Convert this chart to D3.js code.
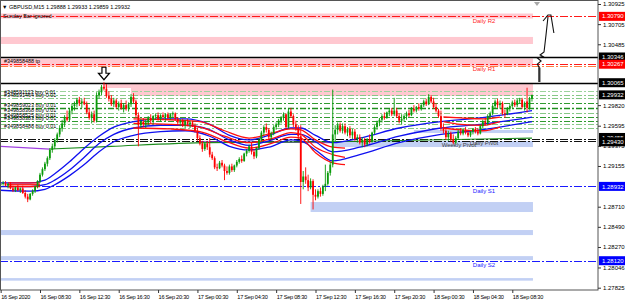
<!DOCTYPE html>
<html>
<head>
<meta charset="utf-8">
<script src="https://cdn.jsdelivr.net/npm/d3@7"></script>
<style>
  body { margin: 0; background: #fff; }
  svg text { font-family: "Liberation Sans", Arial, sans-serif; font-size: 6px; fill: #000; }
</style>
</head>
<body>
<script>
// GBPUSD M15, bars start 16 Sep 2020 04:30 (server time), one bar every 15 minutes
var firstBar = Date.UTC(2020, 8, 16, 4, 30);

// [open, high, low, close]
var ohlc = [
  [1.2895,1.2898,1.2892,1.2896],[1.2896,1.2899,1.2894,1.2897],[1.2897,1.2899,1.2893,1.2894],[1.2894,1.2897,1.2891,1.2896],
  [1.2896,1.2898,1.2890,1.2891],[1.2891,1.2894,1.2887,1.2889],[1.2889,1.2893,1.2887,1.2892],[1.2892,1.2895,1.2888,1.2889],
  [1.2889,1.2892,1.2886,1.2891],[1.2891,1.2894,1.2885,1.2886],[1.2886,1.2889,1.2880,1.2882],[1.2882,1.2885,1.2876,1.2879],
  [1.2879,1.2886,1.2878,1.2885],[1.2885,1.2890,1.2883,1.2888],[1.2888,1.2894,1.2886,1.2893],[1.2893,1.2900,1.2891,1.2899],
  [1.2899,1.2908,1.2897,1.2906],[1.2906,1.2914,1.2904,1.2912],[1.2912,1.2920,1.2910,1.2918],[1.2918,1.2926,1.2915,1.2924],
  [1.2924,1.2935,1.2922,1.2933],[1.2933,1.2940,1.2930,1.2937],[1.2937,1.2946,1.2934,1.2944],[1.2944,1.2952,1.2941,1.2950],
  [1.2950,1.2960,1.2947,1.2957],[1.2957,1.2966,1.2953,1.2962],[1.2962,1.2971,1.2958,1.2969],[1.2969,1.2976,1.2964,1.2966],
  [1.2966,1.2978,1.2964,1.2976],[1.2976,1.2984,1.2972,1.2981],[1.2981,1.2986,1.2976,1.2983],[1.2983,1.2990,1.2980,1.2988],
  [1.2988,1.2991,1.2981,1.2984],[1.2984,1.2989,1.2979,1.2986],[1.2986,1.2990,1.2982,1.2983],[1.2983,1.2986,1.2972,1.2974],
  [1.2974,1.2978,1.2966,1.2968],[1.2968,1.2975,1.2962,1.2972],[1.2972,1.2976,1.2963,1.2965],[1.2965,1.2996,1.2963,1.2993],
  [1.2993,1.2999,1.2989,1.2996],[1.2996,1.3004,1.2993,1.3002],[1.3002,1.3007,1.2998,1.3000],[1.3000,1.3005,1.2990,1.2992],
  [1.2992,1.2997,1.2986,1.2989],[1.2989,1.2993,1.2981,1.2983],[1.2983,1.2990,1.2980,1.2987],[1.2987,1.2989,1.2978,1.2980],
  [1.2980,1.2986,1.2976,1.2984],[1.2984,1.2988,1.2977,1.2979],[1.2979,1.2984,1.2974,1.2982],[1.2982,1.2987,1.2976,1.2978],
  [1.2978,1.2985,1.2975,1.2983],[1.2983,1.2994,1.2980,1.2991],[1.2991,1.2995,1.2984,1.2986],[1.2986,1.2988,1.2968,1.2971],
  [1.2971,1.2974,1.2937,1.2960],[1.2960,1.2967,1.2957,1.2964],[1.2964,1.2968,1.2958,1.2961],[1.2961,1.2966,1.2957,1.2963],
  [1.2963,1.2970,1.2960,1.2968],[1.2968,1.2972,1.2962,1.2965],[1.2965,1.2971,1.2961,1.2970],[1.2970,1.2973,1.2966,1.2971],
  [1.2971,1.2974,1.2965,1.2967],[1.2967,1.2972,1.2964,1.2971],[1.2971,1.2974,1.2967,1.2969],[1.2969,1.2973,1.2965,1.2972],
  [1.2972,1.2974,1.2967,1.2968],[1.2968,1.2973,1.2966,1.2972],[1.2972,1.2975,1.2968,1.2973],[1.2973,1.2974,1.2965,1.2967],
  [1.2967,1.2969,1.2961,1.2963],[1.2963,1.2967,1.2959,1.2965],[1.2965,1.2967,1.2958,1.2960],[1.2960,1.2966,1.2957,1.2964],
  [1.2964,1.2967,1.2959,1.2961],[1.2961,1.2965,1.2957,1.2963],[1.2963,1.2965,1.2958,1.2959],[1.2959,1.2962,1.2952,1.2954],
  [1.2954,1.2957,1.2943,1.2946],[1.2946,1.2949,1.2938,1.2940],[1.2940,1.2943,1.2931,1.2934],[1.2934,1.2942,1.2932,1.2940],
  [1.2940,1.2943,1.2933,1.2936],[1.2936,1.2946,1.2925,1.2928],[1.2928,1.2931,1.2922,1.2924],[1.2924,1.2926,1.2912,1.2914],
  [1.2914,1.2918,1.2910,1.2913],[1.2913,1.2921,1.2912,1.2919],[1.2919,1.2922,1.2914,1.2916],[1.2916,1.2918,1.2900,1.2910],
  [1.2910,1.2915,1.2906,1.2908],[1.2908,1.2917,1.2906,1.2915],[1.2915,1.2918,1.2909,1.2911],[1.2911,1.2917,1.2909,1.2916],
  [1.2916,1.2922,1.2914,1.2920],[1.2920,1.2925,1.2918,1.2923],[1.2923,1.2927,1.2919,1.2921],[1.2921,1.2930,1.2920,1.2929],
  [1.2929,1.2934,1.2926,1.2932],[1.2932,1.2939,1.2930,1.2937],[1.2937,1.2941,1.2928,1.2931],[1.2931,1.2934,1.2923,1.2926],
  [1.2926,1.2936,1.2924,1.2935],[1.2935,1.2946,1.2933,1.2944],[1.2944,1.2954,1.2942,1.2952],[1.2952,1.2960,1.2949,1.2958],
  [1.2958,1.2962,1.2952,1.2955],[1.2955,1.2957,1.2944,1.2947],[1.2947,1.2953,1.2944,1.2951],[1.2951,1.2960,1.2949,1.2958],
  [1.2958,1.2963,1.2955,1.2961],[1.2961,1.2967,1.2958,1.2965],[1.2965,1.2970,1.2962,1.2968],[1.2968,1.2974,1.2965,1.2972],
  [1.2972,1.2973,1.2955,1.2958],[1.2958,1.2978,1.2956,1.2975],[1.2975,1.2979,1.2968,1.2970],[1.2970,1.2972,1.2958,1.2961],
  [1.2961,1.2965,1.2954,1.2957],[1.2957,1.2960,1.2945,1.2948],[1.2948,1.2960,1.2874,1.2898],[1.2898,1.2910,1.2890,1.2904],
  [1.2904,1.2914,1.2896,1.2900],[1.2900,1.2906,1.2888,1.2892],[1.2892,1.2902,1.2890,1.2899],[1.2899,1.2901,1.2868,1.2884],
  [1.2884,1.2890,1.2878,1.2882],[1.2882,1.2890,1.2880,1.2888],[1.2888,1.2892,1.2882,1.2885],[1.2885,1.2895,1.2883,1.2893],
  [1.2893,1.2917,1.2888,1.2896],[1.2896,1.2910,1.2894,1.2908],[1.2908,1.2920,1.2905,1.2917],[1.2917,1.2999,1.2914,1.2950],
  [1.2950,1.2960,1.2942,1.2955],[1.2955,1.2963,1.2950,1.2960],[1.2960,1.2963,1.2952,1.2954],[1.2954,1.2962,1.2951,1.2959],
  [1.2959,1.2962,1.2950,1.2952],[1.2952,1.2958,1.2948,1.2956],[1.2956,1.2959,1.2946,1.2949],[1.2949,1.2956,1.2945,1.2953],
  [1.2953,1.2956,1.2943,1.2945],[1.2945,1.2950,1.2941,1.2947],[1.2947,1.2950,1.2939,1.2941],[1.2941,1.2947,1.2936,1.2944],
  [1.2944,1.2946,1.2936,1.2939],[1.2939,1.2946,1.2937,1.2945],[1.2945,1.2950,1.2940,1.2942],[1.2942,1.2953,1.2941,1.2952],
  [1.2952,1.2960,1.2950,1.2958],[1.2958,1.2965,1.2955,1.2963],[1.2963,1.2968,1.2959,1.2966],[1.2966,1.2972,1.2963,1.2970],
  [1.2970,1.2974,1.2966,1.2968],[1.2968,1.2975,1.2967,1.2974],[1.2974,1.2978,1.2970,1.2976],[1.2976,1.2979,1.2970,1.2972],
  [1.2972,1.2990,1.2970,1.2976],[1.2976,1.2979,1.2968,1.2970],[1.2970,1.2973,1.2962,1.2965],[1.2965,1.2972,1.2961,1.2967],
  [1.2967,1.2972,1.2964,1.2970],[1.2970,1.2975,1.2966,1.2973],[1.2973,1.2977,1.2969,1.2971],[1.2971,1.2980,1.2970,1.2978],
  [1.2978,1.2982,1.2974,1.2976],[1.2976,1.2981,1.2974,1.2980],[1.2980,1.2984,1.2976,1.2978],[1.2978,1.2983,1.2976,1.2982],
  [1.2982,1.2988,1.2980,1.2986],[1.2986,1.2989,1.2981,1.2983],[1.2983,1.2994,1.2982,1.2991],[1.2991,1.2993,1.2984,1.2986],
  [1.2986,1.2990,1.2978,1.2980],[1.2980,1.2984,1.2974,1.2976],[1.2976,1.2978,1.2968,1.2970],[1.2970,1.2976,1.2954,1.2957],
  [1.2957,1.2962,1.2951,1.2954],[1.2954,1.2958,1.2944,1.2947],[1.2947,1.2954,1.2943,1.2951],[1.2951,1.2953,1.2942,1.2945],
  [1.2945,1.2950,1.2939,1.2941],[1.2941,1.2948,1.2939,1.2946],[1.2946,1.2955,1.2944,1.2953],[1.2953,1.2957,1.2949,1.2951],
  [1.2951,1.2957,1.2949,1.2955],[1.2955,1.2958,1.2950,1.2952],[1.2952,1.2955,1.2947,1.2949],[1.2949,1.2954,1.2947,1.2953],
  [1.2953,1.2957,1.2950,1.2956],[1.2956,1.2958,1.2951,1.2953],[1.2953,1.2957,1.2949,1.2951],[1.2951,1.2961,1.2950,1.2959],
  [1.2959,1.2966,1.2957,1.2964],[1.2964,1.2968,1.2960,1.2962],[1.2962,1.2972,1.2960,1.2970],[1.2970,1.2975,1.2967,1.2973],
  [1.2973,1.2983,1.2971,1.2981],[1.2981,1.2988,1.2978,1.2986],[1.2986,1.2989,1.2979,1.2982],[1.2982,1.2987,1.2978,1.2984],
  [1.2984,1.2986,1.2971,1.2973],[1.2973,1.2977,1.2968,1.2972],[1.2972,1.2980,1.2971,1.2978],[1.2978,1.2983,1.2975,1.2981],
  [1.2981,1.2987,1.2979,1.2985],[1.2985,1.2988,1.2980,1.2982],[1.2982,1.2989,1.2980,1.2987],[1.2987,1.2990,1.2984,1.2988],
  [1.2988,1.2990,1.2978,1.2980],[1.2980,1.2986,1.2976,1.2984],[1.2986,1.3001,1.2974,1.2979],[1.2979,1.2991,1.2977,1.2989],
  [1.29888,1.29933,1.29859,1.29932]
];

// moving average ribbons, [bar, upper, middle, lower]
var blueRibbon = [
  [0,1.2897,1.2893,1.2889],[12,1.2897,1.2893,1.2888],[18,1.2900,1.2895,1.2890],[22,1.2907,1.2900,1.2895],
  [28,1.2920,1.2911,1.2905],[34,1.2935,1.2925,1.2917],[40,1.2948,1.2940,1.2931],[46,1.2958,1.2950,1.2942],
  [54,1.2964,1.2957,1.2949],[65,1.2967,1.2960,1.2953],[75,1.2967,1.2960,1.2954],[85,1.2961,1.2955,1.2948],
  [93,1.2949,1.2944,1.2937],[101,1.2944,1.2938,1.2933],[109,1.2949,1.2943,1.2936],[118,1.2957,1.2950,1.2944],
  [122,1.2957,1.2950,1.2943],[128,1.2949,1.2942,1.2933],[135,1.2941,1.2931,1.2921],[146,1.2946,1.2936,1.2928],
  [162,1.2957,1.2948,1.2941],[179,1.2964,1.2957,1.2950],[195,1.2968,1.2961,1.2955],[216,1.2976,1.2969,1.2964]
];
var redRibbonA = [[3,1.2897,1.2895,1.2893],[16,1.2897,1.2895,1.2893]];
var redRibbonB = [
  [54,1.2967,1.2962,1.2957],[69,1.2966,1.2961,1.2956],[81,1.2964,1.2958,1.2953],[91,1.2954,1.2948,1.2943],
  [101,1.2946,1.2941,1.2935],[111,1.2952,1.2946,1.2941],[118,1.2956,1.2952,1.2947],[122,1.2955,1.2950,1.2946],
  [128,1.2944,1.2936,1.2930],[135,1.2936,1.2928,1.2919],[140,1.2935,1.2925,1.2917]
];
var redRibbonC = [[180,1.2969,1.2964,1.2957],[187,1.2968,1.2961,1.2955],[196,1.2967,1.2960,1.2954],[203,1.2969,1.2964,1.2958]];
var greenTrend = [[20,1.2934],[45,1.2937],[85,1.2941],[135,1.2942],[216,1.2946]];
var purpleTrendA = [[0,1.2937],[20,1.2934]];
var purpleTrendB = [[81,1.2942],[135,1.2941]];

// pivot levels
var pivotNames = ["Daily R2", "Daily R1", "Daily Pivot", "Weekly Pivot", "Daily S1", "Daily S2"];
var pivotValues = [1.30790, 1.30267, 1.29455, 1.29430, 1.28932, 1.28120];
var hLineValues = [1.30346, 1.30065];
var tpValue = 1.30248;
var tpLabel = "#349858488 tp";
var lastPrice = 1.29932;

// open orders
var orderPrices = [1.29974, 1.29931, 1.29898, 1.29843, 1.29794, 1.29734, 1.29690, 1.29652, 1.29614, 1.29565];
var orderLabels = [
  ["#348591123 buy 0.01", 1.29931], ["#348591464 buy 0.01", 1.29898], ["#349859023 buy 0.01", 1.29794],
  ["#349858368 buy 0.01", 1.29734], ["#349858525 buy 0.01", 1.29690], ["#349858383 buy 0.01", 1.29652],
  ["#349858488 buy 0.01", 1.29565]
];

// supply / demand rectangles [fromBar, toBar, top, bottom]
var supplyZones = [
  [-2,216.4,1.30821,1.30766],[-2,216.4,1.30565,1.30488],[-2,216.4,1.30329,1.30242],
  [42,216.4,1.30062,1.30007],[53,216.4,1.30062,1.29920]
];
var demandZones = [
  [168,216.4,1.29548,1.29515],[135,216.4,1.29428,1.29362],[126,216.4,1.28761,1.28652],
  [-2,216.4,1.28455,1.28400],[-2,216.4,1.28170,1.28127],[-2,216.4,1.27930,1.27902]
];

// hand drawn arrow [bar, price]
var sketch = [[219.0,1.30073],[219.0,1.30226],[218.2,1.30269],[219.7,1.30302],[218.2,1.30335],[220.5,1.30351],
  [219.3,1.30368],[220.9,1.30400],[221.7,1.30586],[222.5,1.30783]];
var sketchHead = [[220.5,1.30739],[222.5,1.30805],[223.7,1.30805],[224.9,1.30608]];

var priceTicks = [1.30925, 1.30705, 1.30485, 1.29820, 1.29595, 1.29375, 1.29155, 1.28710, 1.28490, 1.28270, 1.28046, 1.27825];
var timeTicks = ["2020-09-16T04:30Z","2020-09-16T08:30Z","2020-09-16T12:30Z","2020-09-16T16:30Z","2020-09-16T20:30Z",
  "2020-09-17T00:30Z","2020-09-17T04:30Z","2020-09-17T08:30Z","2020-09-17T12:30Z","2020-09-17T16:30Z",
  "2020-09-17T20:30Z","2020-09-18T00:30Z","2020-09-18T04:30Z","2020-09-18T08:30Z"];
var timeLabels = ["16 Sep 2020","16 Sep 08:30","16 Sep 12:30","16 Sep 16:30","16 Sep 20:30","17 Sep 00:30",
  "17 Sep 04:30","17 Sep 08:30","17 Sep 12:30","17 Sep 16:30","17 Sep 20:30","18 Sep 00:30","18 Sep 04:30","18 Sep 08:30"];

var width = 625, height = 301, plotW = 598, plotH = 290;

var svg = d3.select("body").append("svg")
    .attr("width", width)
    .attr("height", height)
    .style("display", "block");

svg.append("rect").attr("width", width).attr("height", height).attr("fill", "#fff");

var x = d3.scaleUtc()
    .domain([new Date(Date.UTC(2020, 8, 16, 8, 30)), new Date(Date.UTC(2020, 8, 18, 8, 30))])
    .range([40, 512.3]);
var y = d3.scaleLinear().domain([1.27825, 1.30925]).range([287.7, 4]);

function bx(i) { return x(new Date(firstBar + i * 900000)); }

svg.append("clipPath").attr("id", "plot")
  .append("rect").attr("x", 0).attr("y", 0).attr("width", plotW).attr("height", plotH);

var plot = svg.append("g").attr("clip-path", "url(#plot)");

// zones
function zones(data, color) {
  plot.append("g").selectAll("rect")
    .data(data)
    .enter().append("rect")
      .attr("x", function(d) { return bx(d[0]); })
      .attr("width", function(d) { return bx(d[1]) - bx(d[0]); })
      .attr("y", function(d) { return y(d[2]); })
      .attr("height", function(d) { return y(d[3]) - y(d[2]); })
      .attr("fill", color);
}
zones(supplyZones, "#ffc8d0");
zones(demandZones, "#c2d0f4");

// horizontal levels
var dashDot = "8,2,2,2";
function hline(v, color, dash, w) {
  plot.append("line")
    .attr("x1", 0).attr("x2", plotW)
    .attr("y1", Math.round(y(v)) + 0.5).attr("y2", Math.round(y(v)) + 0.5)
    .attr("stroke", color).attr("stroke-width", w || 1)
    .attr("stroke-dasharray", dash || null);
}

var orderColors = ["#9bd39b", "#86c886", "#86c886", "#2f9a2f", "#1f8f1f", "#86c886", "#2f9a2f", "#2f9a2f", "#86c886", "#86c886"];
orderPrices.forEach(function(v, i) { hline(v, orderColors[i], "6,2,2,2", i == 4 ? 1.6 : 1.2); });

function pivotColor(name) {
  if (name.indexOf(" R") > 0) return "#ff1a1a";
  if (name.indexOf(" S") > 0) return "#1a1aff";
  return "#111";
}
pivotValues.forEach(function(v, i) { hline(v, pivotColor(pivotNames[i]), dashDot, 1.2); });
hline(tpValue, "#ff8040", dashDot, 1.2);
hLineValues.forEach(function(v) { hline(v, "#000", null, 1.3); });

// trend lines
var line2 = d3.line()
    .x(function(d) { return bx(d[0]); })
    .y(function(d) { return y(d[1]); })
    .curve(d3.curveMonotoneX);

[purpleTrendA, purpleTrendB].forEach(function(d) {
  plot.append("path").attr("d", line2(d)).attr("fill", "none").attr("stroke", "#a040e0").attr("stroke-width", 1.2);
});
plot.append("path").attr("d", line2(greenTrend)).attr("fill", "none").attr("stroke", "#1c8c1c").attr("stroke-width", 1.2);

// ribbons
function ribbon(data, color) {
  [1, 2, 3].forEach(function(k) {
    var ln = d3.line()
        .x(function(d) { return bx(d[0]); })
        .y(function(d) { return y(d[k]); })
        .curve(d3.curveMonotoneX);
    plot.append("path").attr("d", ln(data))
      .attr("fill", "none").attr("stroke", color).attr("stroke-width", 1.3);
  });
}
ribbon(blueRibbon, "#1010f0");
ribbon(redRibbonA, "#ff1010");
ribbon(redRibbonB, "#ff1010");
ribbon(redRibbonC, "#ff1010");

// candles
var candle = plot.append("g").selectAll("g")
    .data(ohlc)
  .enter().append("g");

candle.append("line")
    .attr("x1", function(d, i) { return bx(i); })
    .attr("x2", function(d, i) { return bx(i); })
    .attr("y1", function(d) { return y(d[1]); })
    .attr("y2", function(d) { return y(d[2]); })
    .attr("stroke", function(d) { return d[3] >= d[0] ? "#0a9a0a" : "#ff0000"; })
    .attr("stroke-width", 0.9);

candle.append("rect")
    .attr("x", function(d, i) { return bx(i) - 0.9; })
    .attr("width", 1.8)
    .attr("y", function(d) { return y(Math.max(d[0], d[3])); })
    .attr("height", function(d) { return Math.max(0.8, Math.abs(y(d[0]) - y(d[3]))); })
    .attr("fill", function(d) { return d[3] >= d[0] ? "#0a9a0a" : "#ff0000"; });

// arrow marker above the high
var peak = 42;
var ax = bx(peak), ay = y(ohlc[peak][1]) - 2;
plot.append("path")
    .attr("d", "M" + (ax - 2) + "," + (ay - 13) + "h4v6h3.5l-5.5,6.5l-5.5,-6.5h3.5z")
    .attr("fill", "#fff").attr("stroke", "#000").attr("stroke-width", 1.2);

// hand drawn sketch
var sk = d3.line().x(function(d) { return bx(d[0]); }).y(function(d) { return y(d[1]); });
plot.append("path").attr("d", sk(sketch)).attr("fill", "none").attr("stroke", "#111").attr("stroke-width", 1.1);
plot.append("path").attr("d", sk(sketchHead)).attr("fill", "none").attr("stroke", "#111").attr("stroke-width", 1.1);
plot.append("line").attr("x1", bx(219)).attr("x2", bx(219)).attr("y1", y(1.30073)).attr("y2", y(1.30230))
    .attr("stroke", "#333").attr("stroke-width", 2.2);

// shift marker
svg.append("path").attr("d", "M534,2h6l-3,4z").attr("fill", "#a8a8a8");

// texts in the plot
svg.append("text").attr("x", 2).attr("y", 9).style("font-size", "5.5px")
    .text("\u25BC  GBPUSD,M15  1.29888 1.29933 1.29859 1.29932");
svg.append("text").attr("x", 3).attr("y", 18).style("font-size", "5.5px").text("Sunday Bar ignored");
svg.append("text").attr("x", 4).attr("y", y(tpValue) - 2.5).style("font-size", "5.4px").text(tpLabel);

svg.append("g").selectAll("text")
    .data(orderLabels)
  .enter().append("text")
    .attr("x", 4)
    .attr("y", function(d) { return y(d[1]) - 0.5; })
    .style("font-size", "5.4px")
    .text(function(d) { return d[0]; });

svg.append("g").selectAll("text")
    .data(pivotNames)
  .enter().append("text")
    .attr("x", function(d) { return d.indexOf("Weekly") == 0 ? bx(186.3) : bx(196.5); })
    .attr("y", function(d, i) { return y(pivotValues[i]) + 6.5; })
    .attr("text-anchor", "middle")
    .style("fill", function(d) { var c = pivotColor(d); return c == "#111" ? "#444" : c; })
    .text(function(d) { return d; });

// frame
svg.append("rect").attr("x", 0.5).attr("y", 0.5).attr("width", plotW - 0.5).attr("height", plotH - 0.5)
    .attr("fill", "none").attr("stroke", "#555").attr("stroke-width", 1);

// axes
var yAxis = d3.axisRight(y).tickValues(priceTicks).tickSize(3).tickPadding(2).tickFormat(d3.format(".5f"));
var ga = svg.append("g").attr("transform", "translate(" + plotW + ",0)").call(yAxis);
ga.select(".domain").remove();
ga.selectAll("line").attr("stroke", "#333");
ga.selectAll("text").style("font-size", "6px").attr("font-family", null);

var xAxis = d3.axisBottom(x)
    .tickValues(timeTicks.map(function(t) { return new Date(t); }))
    .tickSize(3)
    .tickFormat(function(d, i) { return timeLabels[i]; });
var gx = svg.append("g").attr("transform", "translate(0," + plotH + ")").call(xAxis);
gx.select(".domain").remove();
gx.selectAll("line").attr("stroke", "#333");
gx.selectAll("text").attr("text-anchor", "start").attr("x", 0).attr("dy", "0.55em")
    .style("font-size", "5.6px").style("letter-spacing", "-0.25px").attr("font-family", null);

// price boxes on the axis
function boxColor(v) {
  var i = pivotValues.indexOf(v);
  if (i < 0) return "#000";
  var c = pivotColor(pivotNames[i]);
  return c == "#ff1a1a" ? "#ff0000" : c == "#1a1aff" ? "#0000ff" : "#000";
}
var boxes = pivotValues.concat(hLineValues).concat([lastPrice]).sort(d3.descending);
var boxY = boxes.map(function(v) { return y(v); });
// spread labels that would sit on top of each other
for (var k = 1; k < boxY.length; k++) {
  var gap = boxY[k] - boxY[k - 1];
  if (gap < 4.4) { boxY[k - 1] -= (4.4 - gap) / 2; boxY[k] += (4.4 - gap) / 2; }
}
var gb = svg.append("g").selectAll("g").data(boxes).enter().append("g")
    .attr("transform", function(d, i) { return "translate(599," + boxY[i] + ")"; });
gb.append("rect").attr("x", 0).attr("y", -4.5).attr("width", 26).attr("height", 9)
    .attr("fill", function(d) { return boxColor(d); });
gb.append("text").attr("x", 3).attr("dy", "0.35em").style("fill", "#fff")
    .text(function(d) { return d3.format(".5f")(d); });
</script>
</body>
</html>
